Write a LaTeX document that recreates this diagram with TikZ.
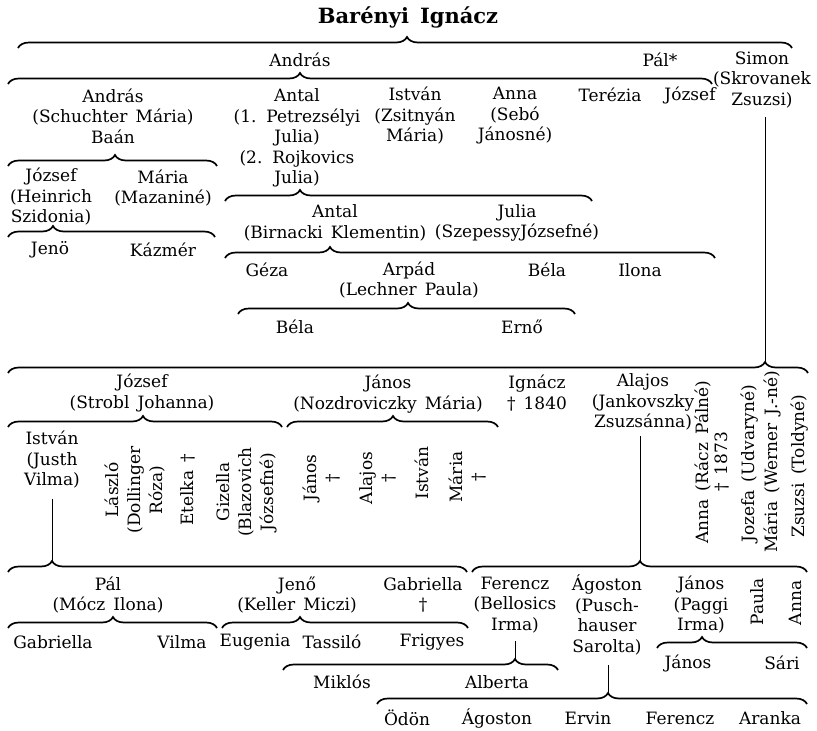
\documentclass[tikz,border=0pt]{standalone}
\usepackage{fontspec}
\setmainfont{DejaVu Serif}[WordSpace=1.5]
\usetikzlibrary{decorations.pathreplacing}
% brace: name, x-left, x-right, y of the end curls, x of the tip
\newcommand\brc[5]{%
  \coordinate (#1a) at (#2,#4);
  \coordinate (#1b) at (#3,#4);
  \coordinate (#1t) at (#5,#4-11);
  \pgfmathsetmacro\braspect{(#5-#2)/(#3-#2)}%
  \draw[br, decorate, decoration={brace, amplitude=11pt, aspect=\braspect}] (#1a) -- (#1b);
}
\begin{document}
\begin{tikzpicture}[x=1pt,y=-1pt,
  t/.style={font=\fontsize{17}{20.5}\selectfont, inner sep=0pt, align=center},
  vt/.style={t, rotate=90, font=\fontsize{17}{22}\selectfont},
  ttl/.style={font=\fontsize{21}{24}\selectfont\bfseries, inner sep=0pt},
  br/.style={line width=1.7pt},
  ln/.style={line width=0.8pt}]
\fill[white] (0,0) rectangle (817,731);
\useasboundingbox (0,0) rectangle (817,731);

% ---- nodes
\node[ttl] (root) at (408,17) {Barényi Ignácz};

\node[t] (andras1) at (300,60) {András};
\node[t] (pal) at (660,60) {Pál*};
\node[t] (simon) at (762,80) {Simon\\(Skrovanek\\Zsuzsi)};

\node[t] (andras2) at (113,116) {András\\(Schuchter Mária)\\Baán};
\node[t] (antal1) at (297,138) {Antal\\(1. Petrezsélyi\\Julia)\\(2. Rojkovics\\Julia)};
\node[t] (istvan1) at (415,116) {István\\(Zsitnyán\\Mária)};
\node[t] (anna1) at (515,116) {Anna\\(Sebó\\Jánosné)};
\node[t] (terezia) at (610,95) {Terézia};
\node[t] (jozsef1) at (690,95) {József};

\node[t] (jozsef2) at (51,197) {József\\(Heinrich\\Szidonia)};
\node[t] (maria1) at (163,188) {Mária\\(Mazaniné)};
\node[t] (jeno1) at (50,250) {Jenö};
\node[t] (kazmer) at (163,250) {Kázmér};

\node[t] (antal2) at (335,223) {Antal\\(Birnacki Klementin)};
\node[t] (julia2) at (517,223) {Julia\\(SzepessyJózsefné)};
\node[t] (geza) at (267,270) {Géza};
\node[t] (arpad) at (409,280) {Arpád\\(Lechner Paula)};
\node[t] (bela1) at (547,270) {Béla};
\node[t] (ilona) at (640,270) {Ilona};
\node[t] (bela2) at (295,327) {Béla};
\node[t] (erno) at (522,327) {Ernő};

\node[t] (jozsef3) at (142,393) {József\\(Strobl Johanna)};
\node[t] (janos1) at (388,394) {János\\(Nozdroviczky Mária)};
\node[t] (ignacz) at (537,393) {Ignácz\\† 1840};
\node[t] (alajos1) at (643,402) {Alajos\\(Jankovszky\\Zsuzsánna)};

\node[t] (istvan2) at (52,460) {István\\(Justh\\Vilma)};
\node[vt] (laszlo) at (135,490) {László\\(Dollinger\\Róza)};
\node[vt] (etelka) at (188,490) {Etelka †};
\node[vt] (gizella) at (247,492) {Gizella\\(Blazovich\\Józsefné)};
\node[vt] (janos2) at (322,478) {János\\†};
\node[vt] (alajos2) at (378,478) {Alajos\\†};
\node[vt] (istvan3) at (422,473) {István};
\node[vt] (maria2) at (468,477) {Mária\\†};
\node[vt, font=\fontsize{17}{19}\selectfont] (anna2) at (712,462) {Anna (Rácz Pálné)\\† 1873};
\node[vt] (jozefa) at (750,464) {Jozefa (Udvaryné)};
\node[vt] (maria3) at (772,462) {Mária (Werner J.-né)};
\node[vt] (zsuzsi) at (800,466) {Zsuzsi (Toldyné)};

\node[t] (pal2) at (108,595) {Pál\\(Mócz Ilona)};
\node[t] (jeno2) at (297,595) {Jenő\\(Keller Miczi)};
\node[t] (gabriella1) at (423,595) {Gabriella\\†};
\node[t] (ferencz1) at (515,605) {Ferencz\\(Bellosics\\Irma)};
\node[t] (agoston1) at (607,615) {Ágoston\\(Pusch-\\hauser\\Sarolta)};
\node[t] (janos3) at (701,605) {János\\(Paggi\\Irma)};
\node[vt] (paula) at (757,602) {Paula};
\node[vt] (anna3) at (795,603) {Anna};

\node[t] (gabriella2) at (53,642) {Gabriella};
\node[t] (vilma) at (182,642) {Vilma};
\node[t] (eugenia) at (255,642) {Eugenia};
\node[t] (tassilo) at (332,642) {Tassiló};
\node[t] (frigyes) at (432,642) {Frigyes};
\node[t] (janos4) at (688,663) {János};
\node[t] (sari) at (782,663) {Sári};
\node[t] (miklos) at (342,682) {Miklós};
\node[t] (alberta) at (497,682) {Alberta};
\node[t] (odon) at (407,718) {Ödön};
\node[t] (agoston2) at (497,718) {Ágoston};
\node[t] (ervin) at (588,718) {Ervin};
\node[t] (ferencz2) at (680,718) {Ferencz};
\node[t] (aranka) at (770,718) {Aranka};

% ---- braces
\brc{b0}{18}{792}{48}{407}
\brc{b1}{8}{712}{84}{300}
\brc{b2}{8}{217}{166}{115}
\brc{b3}{8}{215}{237}{53}
\brc{b4}{225}{592}{201}{300}
\brc{b5}{225}{715}{258}{330}
\brc{b6}{238}{575}{314}{408}
\brc{b7}{8}{808}{373}{765}
\brc{b8}{8}{282}{427}{143}
\brc{b9}{287}{498}{427}{393}
\brc{b10}{8}{467}{572}{52}
\brc{b11}{472}{807}{572}{640}
\brc{b12}{8}{217}{628}{113}
\brc{b13}{222}{468}{628}{300}
\brc{b14}{283}{558}{670}{515}
\brc{b15}{377}{807}{704}{608}
\brc{b16}{657}{807}{648}{702}

% ---- descent lines
\draw[ln, shorten <=9pt] (simon.south -| b7t) -- (b7t);
\draw[ln, shorten <=10pt] (istvan2.south -| b10t) -- (b10t);
\draw[ln, shorten <=6pt] (alajos1.south -| b11t) -- (b11t);
\draw[ln, shorten <=8pt] (ferencz1.south -| b14t) -- (b14t);
\draw[ln, shorten <=10pt] (agoston1.south -| b15t) -- (b15t);
\end{tikzpicture}
\end{document}
